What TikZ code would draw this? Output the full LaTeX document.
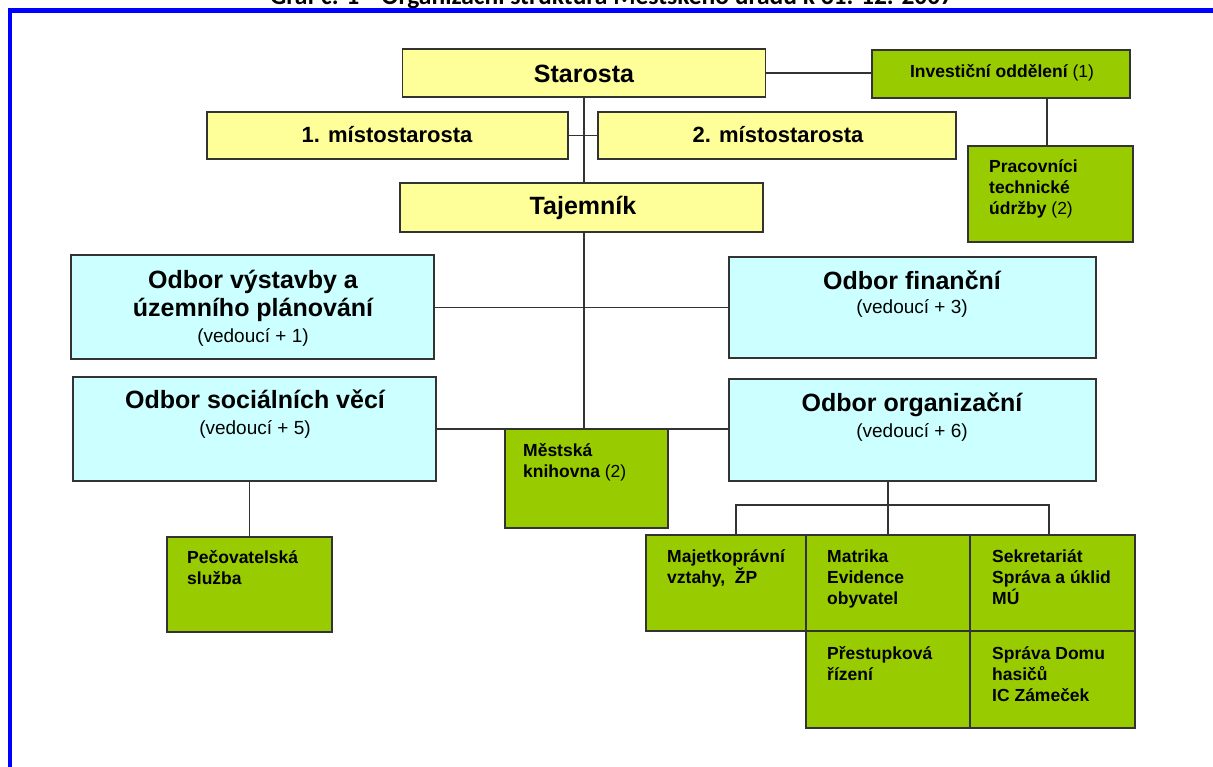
\documentclass[tikz,border=0pt]{standalone}
\usepackage{fontspec}
\setmainfont{Liberation Sans}
\newfontfamily\titlefont{Carlito}
\newcommand{\Lstack}[1]{\vtop{\halign{##\hfil\cr#1\crcr}}}
\newcommand{\Cstack}[1]{\vtop{\halign{\hfil##\hfil\cr#1\crcr}}}
\definecolor{yel}{HTML}{FFFF99}
\definecolor{cya}{HTML}{CCFFFF}
\definecolor{grn}{HTML}{99CC00}
\begin{document}
\begin{tikzpicture}[x=1pt,y=-1pt,
  box/.style={draw=black!80, line width=1.5pt, inner sep=0pt, outer sep=0pt},
  ybox/.style={box, fill=yel},
  cbox/.style={box, fill=cya},
  gbox/.style={box, fill=grn},
  conn/.style={draw=black!80, line width=1.6pt},
  big/.style={inner sep=0pt, anchor=base, font=\fontsize{25}{28}\selectfont\bfseries},
  mid/.style={inner sep=0pt, anchor=base, font=\fontsize{22}{26}\selectfont\bfseries},
  sub/.style={inner sep=0pt, anchor=base, font=\fontsize{19}{22}\selectfont},
  small/.style={inner sep=0pt, anchor=base west, font=\fontsize{17.5}{21}\selectfont\bfseries},
]
\useasboundingbox (0,0) rectangle (1213,767);
\fill[white] (0,0) rectangle (1213,767);

% title (clipped by page edge, as in the reference)
\node[inner sep=0pt, anchor=base west, font=\titlefont\bfseries\fontsize{25.5}{30}\selectfont] (title) at (270,4.5)
  {Graf č. 1\hspace{22pt}Organizační struktura Městského úřadu k 31. 12. 2007};
% blue frame
\draw[blue, line width=4.5pt, line join=miter] (10,775) -- (10,10.5) -- (1220,10.5);

% boxes
\node[ybox, minimum width=363pt, minimum height=48pt] (star) at (584,73) {};
\node[gbox, minimum width=258pt, minimum height=48pt] (inv) at (1001,74) {};
\node[gbox, minimum width=165pt, minimum height=96pt] (prac) at (1050.5,194) {};
\node[ybox, minimum width=361pt, minimum height=47pt] (m1) at (387.5,135.5) {};
\node[ybox, minimum width=358pt, minimum height=47pt] (m2) at (777,135.5) {};
\node[ybox, minimum width=363pt, minimum height=49pt] (taj) at (581.5,207.5) {};
\node[cbox, minimum width=363pt, minimum height=104pt] (vys) at (252.5,307) {};
\node[cbox, minimum width=367pt, minimum height=101pt] (fin) at (912.5,307.5) {};
\node[cbox, minimum width=363pt, minimum height=104pt] (soc) at (254.5,429) {};
\node[cbox, minimum width=367pt, minimum height=102pt] (org) at (912.5,430) {};
\node[gbox, minimum width=163pt, minimum height=99pt] (knih) at (586.5,478.5) {};
\node[gbox, minimum width=165pt, minimum height=95pt] (pec) at (249.5,584.5) {};
\node[gbox, minimum width=160pt, minimum height=96pt] (maj) at (726,583) {};
\node[gbox, minimum width=164pt, minimum height=96pt] (mat) at (888,583) {};
\node[gbox, minimum width=165pt, minimum height=96pt] (sek) at (1052.5,583) {};
\node[gbox, minimum width=164pt, minimum height=97pt] (pre) at (888,679.5) {};
\node[gbox, minimum width=165pt, minimum height=97pt] (spr) at (1052.5,679.5) {};

% connectors
\draw[conn] (star.east) -- (star.east -| inv.west);
\coordinate (ix) at (1047,0);
\draw[conn] (ix |- inv.south) -- (ix |- prac.north);
\draw[conn] (m1.east) -- (m2.west);
\draw[conn] (star.south) -- (star.south |- taj.north);
\draw[conn] (star.south |- taj.south) -- (star.south |- knih.north);
\draw[conn] (fin.west -| vys.east) -- (fin.west);
\draw[conn] (soc.east) -- (soc.east -| org.west);
\draw[conn] (pec.north |- soc.south) -- (pec.north);
\coordinate (bl) at (736,505);
\coordinate (br) at (1049,505);
\draw[conn] (mat.north |- org.south) -- (mat.north);
\draw[conn] (bl |- maj.north) -- (bl) -- (br) -- (br |- sek.north);

% texts
\node[big] (starT) at (584,83) {Starosta};
\node[mid] (m1T) at (387,143) {1. místostarosta};
\node[mid] (m2T) at (778,143) {2. místostarosta};
\node[big] (tajT) at (583,215) {Tajemník};
\node[big] (vysT) at (253,289) {\Cstack{Odbor výstavby a\cr územního plánování}};
\node[sub] (vysS) at (253,342) {(vedoucí + 1)};
\node[big] (finT) at (912,290) {Odbor finanční};
\node[sub] (finS) at (912,314) {(vedoucí + 3)};
\node[big] (socT) at (255,408) {Odbor sociálních věcí};
\node[sub] (socS) at (255,434) {(vedoucí + 5)};
\node[big] (orgT) at (912,411) {Odbor organizační};
\node[sub] (orgS) at (912,437) {(vedoucí + 6)};

\node[small, anchor=base] (invT) at (1002,78) {Investiční oddělení {\mdseries(1)}};
\node[small] (pracT) at (989,173) {\Lstack{Pracovníci\cr technické\cr údržby {\mdseries(2)}}};
\node[small] (knihT) at (523,456) {\Lstack{Městská\cr knihovna {\mdseries(2)}}};
\node[small] (pecT) at (187,563) {\Lstack{Pečovatelská\cr služba}};
\node[small] (majT) at (667,562) {\Lstack{Majetkoprávní\cr vztahy,\ \ ŽP}};
\node[small] (matT) at (827,562) {\Lstack{Matrika\cr Evidence\cr obyvatel}};
\node[small] (sekT) at (992,562) {\Lstack{Sekretariát\cr Správa a úklid\cr MÚ}};
\node[small] (preT) at (827,659) {\Lstack{Přestupková\cr řízení}};
\node[small] (sprT) at (992,659) {\Lstack{Správa Domu\cr hasičů\cr IC Zámeček}};
\end{tikzpicture}
\end{document}
